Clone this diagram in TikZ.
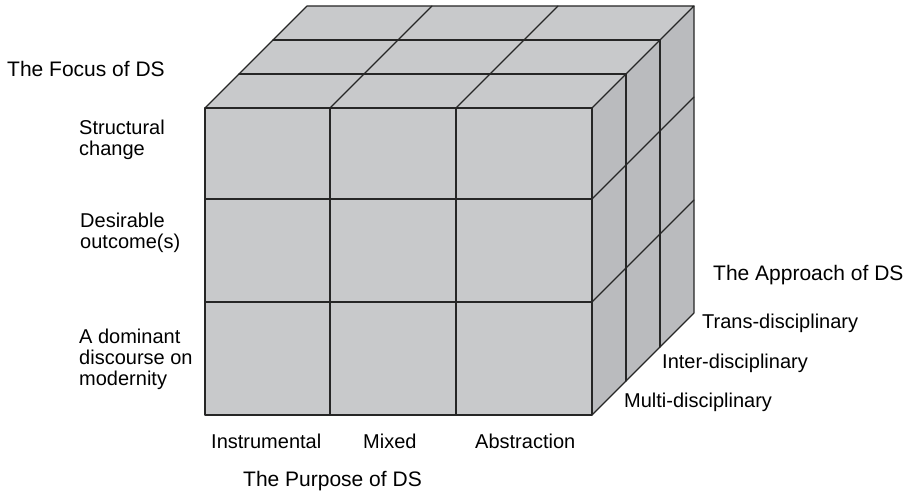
\documentclass[tikz,border=0pt]{standalone}
\usepackage{fontspec}
\setmainfont{Liberation Sans}
\definecolor{frontgray}{HTML}{C8C9CB}
\definecolor{topgray}{HTML}{C8C9CB}
\definecolor{sidegray}{HTML}{BABBBE}
\definecolor{edgegray}{HTML}{262626}
\begin{document}
\begin{tikzpicture}[x=1pt,y=-1pt,
  edge/.style={draw=edgegray, line width=1.1pt, line join=round, line cap=round},
  lbl/.style={anchor=base west, inner sep=0pt, align=left,
              font=\fontsize{20}{20.8}\selectfont},
  ttl/.style={anchor=base west, inner sep=0pt,
              font=\fontsize{21}{21}\selectfont}]
\useasboundingbox (0,0) rectangle (910,495);

% corners of the cube (front face and depth offset of three layers)
\coordinate (FTL) at (205,108);
\coordinate (FTR) at (592,108);
\coordinate (FBR) at (592,415);
\coordinate (FBL) at (205,415);
\coordinate (BTL) at (307,6);
\coordinate (BTR) at (694,6);
\coordinate (BBR) at (694,313);

% faces
\fill[frontgray] (FTL) -- (FTR) -- (FBR) -- (FBL) -- cycle;
\fill[topgray] (FTL) -- (FTR) -- (BTR) -- (BTL) -- cycle;
\fill[sidegray] (FTR) -- (BTR) -- (BBR) -- (FBR) -- cycle;

% front face grid
\foreach \x in {330,456}
  \draw[edge] (\x,108) -- (\x,415);
\foreach \y in {199,302}
  \draw[edge] (205,\y) -- (592,\y);

% top face grid
\foreach \k in {1,2}
  \draw[edge] ({205+34*\k},{108-34*\k}) -- ({592+34*\k},{108-34*\k});
\foreach \x in {330,456}
  \draw[edge] (\x,108) -- ({\x+102},6);

% right face grid
\foreach \k in {1,2}
  \draw[edge] ({592+34*\k},{108-34*\k}) -- ({592+34*\k},{415-34*\k});
\foreach \y in {199,302}
  \draw[edge] (592,\y) -- (694,{\y-102});

% outline
\draw[edge] (FTL) -- (FTR) -- (FBR) -- (FBL) -- cycle;
\draw[edge] (FTL) -- (BTL) -- (BTR) -- (FTR);
\draw[edge] (BTR) -- (BBR) -- (FBR);

% the focus axis (multi-line labels sit on the baseline of their last line)
\node[ttl] (focus) at (7,77) {The Focus of DS};
\node[lbl] (fstruct) at (79,155) {Structural\\change};
\node[lbl] (foutcome) at (80,248) {Desirable\\outcome(s)};
\node[lbl] (fdiscourse) at (79,385) {A dominant\\discourse on\\modernity};

% the purpose axis
\node[lbl] (pinstr) at (211,448) {Instrumental};
\node[lbl] (pmixed) at (363,448) {Mixed};
\node[lbl] (pabstr) at (475,448) {Abstraction};
\node[ttl] (purpose) at (243,486) {The Purpose of DS};

% the approach axis
\node[ttl] (approach) at (713,280) {The Approach of DS};
\node[lbl] (atrans) at (702,328) {Trans-disciplinary};
\node[lbl] (ainter) at (662,368) {Inter-disciplinary};
\node[lbl] (amulti) at (624,407) {Multi-disciplinary};
\end{tikzpicture}
\end{document}
